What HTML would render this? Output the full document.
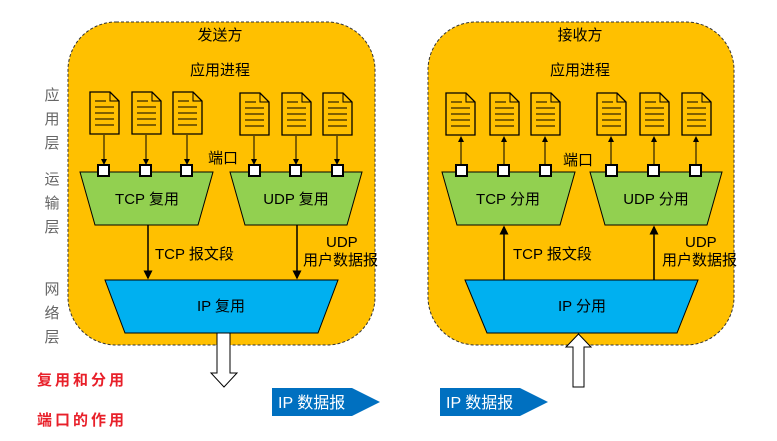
<!DOCTYPE html>
<html><head><meta charset="utf-8"><style>body{margin:0;background:#fff}svg{display:block}text{font-family:"Liberation Sans","Noto Sans CJK SC",sans-serif}</style></head><body>
<svg width="777" height="441" viewBox="0 0 777 441" xmlns="http://www.w3.org/2000/svg">
<defs>
<marker id="a" markerWidth="6" markerHeight="6" refX="5" refY="3" orient="auto"><path d="M0,0 L6,3 L0,6 z" fill="#000"/></marker>
<g id="doc"><path d="M0,0 H20 L29,9 V42 H0 Z" fill="#FFC000" stroke="#000" stroke-width="1.3"/><path d="M20,0 V9 H29" fill="none" stroke="#000"/><path d="M5,9 H16 M5,15 H24 M5,21 H24 M5,27 H24 M5,33 H24" stroke="#000" stroke-width="1"/></g>
<rect id="sq" width="11" height="11" fill="#fff" stroke="#000" stroke-width="2"/>
</defs>
<rect x="68" y="22" width="307" height="323" rx="48" fill="#FFC000" stroke="#333" stroke-dasharray="3,2"/>
<rect x="428" y="22" width="306" height="323" rx="48" fill="#FFC000" stroke="#333" stroke-dasharray="3,2"/>
<g font-size="15" fill="#000">
<text x="220" y="40" text-anchor="middle">发送方</text><text x="220" y="75" text-anchor="middle">应用进程</text>
<text x="580" y="40" text-anchor="middle">接收方</text><text x="580" y="75" text-anchor="middle">应用进程</text>
<text x="208" y="163">端口</text><text x="563" y="165">端口</text>
</g>
<g font-size="15" fill="#666" text-anchor="middle">
<text x="52" y="100">应</text><text x="52" y="124">用</text><text x="52" y="148">层</text>
<text x="52" y="184">运</text><text x="52" y="208">输</text><text x="52" y="232">层</text>
<text x="52" y="294">网</text><text x="52" y="318">络</text><text x="52" y="342">层</text>
</g>
<use href="#doc" x="90" y="92"/><use href="#doc" x="132" y="92"/><use href="#doc" x="173" y="92"/>
<use href="#doc" x="240" y="93"/><use href="#doc" x="282" y="93"/><use href="#doc" x="323" y="93"/>
<use href="#doc" x="446" y="93"/><use href="#doc" x="490" y="93"/><use href="#doc" x="531" y="93"/>
<use href="#doc" x="597" y="93"/><use href="#doc" x="640" y="93"/><use href="#doc" x="682" y="93"/>
<path d="M80,172 H213 L198,225 H95 Z" fill="#92D050" stroke="#000"/>
<path d="M230,172 H362 L347,225 H245 Z" fill="#92D050" stroke="#000"/>
<path d="M442,172 H575 L560,225 H457 Z" fill="#92D050" stroke="#000"/>
<path d="M590,172 H722 L707,225 H605 Z" fill="#92D050" stroke="#000"/>
<g font-size="15" text-anchor="middle"><text x="147" y="204">TCP 复用</text><text x="296" y="204">UDP 复用</text><text x="508" y="204">TCP 分用</text><text x="656" y="204">UDP 分用</text></g>
<g stroke="#000" stroke-width="1" marker-end="url(#a)">
<line x1="104" y1="135" x2="104" y2="164"/><line x1="146" y1="135" x2="146" y2="164"/><line x1="187" y1="135" x2="187" y2="164"/>
<line x1="254" y1="136" x2="254" y2="164"/><line x1="296" y1="136" x2="296" y2="164"/><line x1="337" y1="136" x2="337" y2="164"/>
<line x1="461" y1="165" x2="461" y2="137"/><line x1="504" y1="165" x2="504" y2="137"/><line x1="545" y1="165" x2="545" y2="137"/>
<line x1="611" y1="165" x2="611" y2="137"/><line x1="654" y1="165" x2="654" y2="137"/><line x1="696" y1="165" x2="696" y2="137"/>
</g>
<use href="#sq" x="98" y="165"/><use href="#sq" x="140" y="165"/><use href="#sq" x="181" y="165"/>
<use href="#sq" x="249" y="165"/><use href="#sq" x="290" y="165"/><use href="#sq" x="332" y="165"/>
<use href="#sq" x="456" y="165"/><use href="#sq" x="498" y="165"/><use href="#sq" x="540" y="165"/>
<use href="#sq" x="606" y="165"/><use href="#sq" x="648" y="165"/><use href="#sq" x="690" y="165"/>
<g stroke="#000" stroke-width="1.5" marker-end="url(#a)">
<line x1="148" y1="225" x2="148" y2="278"/><line x1="297" y1="225" x2="297" y2="278"/>
<line x1="504" y1="280" x2="504" y2="227"/><line x1="654" y1="280" x2="654" y2="227"/>
</g>
<g font-size="15">
<text x="155" y="259">TCP 报文段</text><text x="326" y="247">UDP</text><text x="303" y="265">用户数据报</text>
<text x="513" y="259">TCP 报文段</text><text x="685" y="247">UDP</text><text x="662" y="265">用户数据报</text>
</g>
<path d="M105,280 H338 L318,333 H125 Z" fill="#00B0F0" stroke="#000"/>
<path d="M465,280 H698 L677,333 H487 Z" fill="#00B0F0" stroke="#000"/>
<g font-size="15" text-anchor="middle"><text x="221" y="311">IP 复用</text><text x="582" y="311">IP 分用</text></g>
<path d="M217,333 H230 V373 H237 L224,387 L211,373 H217 Z" fill="#fff" stroke="#000"/>
<path d="M573,387 H584 V347 H591 L578.5,334 L566,347 H573 Z" fill="#fff" stroke="#000"/>
<path d="M272,388 H352 V388 L380,402 L352,416 H272 Z" fill="#0070C0"/>
<path d="M440,388 H520 L548,402 L520,416 H440 Z" fill="#0070C0"/>
<g font-size="16" fill="#fff"><text x="278" y="408">IP 数据报</text><text x="446" y="408">IP 数据报</text></g>
<g font-size="15" fill="#e8202a" font-weight="bold" letter-spacing="3"><text x="37" y="385">复用和分用</text><text x="37" y="425">端口的作用</text></g>
</svg>
</body></html>
